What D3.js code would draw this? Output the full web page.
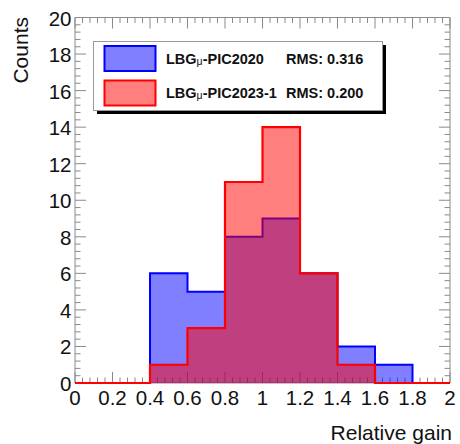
<!DOCTYPE html>
<html><head><meta charset="utf-8">
<script src="https://cdn.jsdelivr.net/npm/d3@7"></script>
<style>body{margin:0;background:#fff}svg{display:block}</style>
</head><body>
<script>
const binEdges = [0,0.2,0.4,0.6,0.8,1.0,1.2,1.4,1.6,1.8,2.0];
const countsPIC2020 = [0,0,6,5,8,9,6,2,1,0];
const countsPIC2023 = [0,0,1,3,11,14,6,1,0,0];
const xTicks = [0,0.2,0.4,0.6,0.8,1,1.2,1.4,1.6,1.8,2];
const yTicks = [0,2,4,6,8,10,12,14,16,18,20];
const legendNames = ["PIC2020","PIC2023-1"];
const legendRMS = ["RMS: 0.316","RMS: 0.200"];

const W=460,H=444;
const svg=d3.select("body").append("svg").attr("width",W).attr("height",H);
const x=d3.scaleLinear().domain([0,2]).range([75,450]);
const y=d3.scaleLinear().domain([0,20]).range([383,17.5]);
const font="Liberation Sans, Arial, sans-serif";
const axCol="#8a8a8a";

const g=svg.append("g");
g.append("line").attr("x1",x(0)).attr("x2",x(2)).attr("y1",y(0)).attr("y2",y(0)).attr("stroke",axCol);
g.append("line").attr("x1",x(0)).attr("x2",x(2)).attr("y1",y(20)).attr("y2",y(20)).attr("stroke",axCol);
g.append("line").attr("x1",x(0)).attr("x2",x(0)).attr("y1",y(0)).attr("y2",y(20)).attr("stroke",axCol);
g.append("line").attr("x1",x(2)).attr("x2",x(2)).attr("y1",y(0)).attr("y2",y(20)).attr("stroke",axCol);

const xMinor=d3.range(0,2.0001,0.04);
xMinor.forEach((v,i)=>{
  const major=i%5===0, L=major?11:5.5;
  g.append("line").attr("x1",x(v)).attr("x2",x(v)).attr("y1",y(0)).attr("y2",y(0)-L).attr("stroke",axCol);
  g.append("line").attr("x1",x(v)).attr("x2",x(v)).attr("y1",y(20)).attr("y2",y(20)+L).attr("stroke",axCol);
});
const yMinor=d3.range(0,20.0001,0.4);
yMinor.forEach((v,i)=>{
  const major=i%5===0, L=major?11:5.5;
  g.append("line").attr("y1",y(v)).attr("y2",y(v)).attr("x1",x(0)).attr("x2",x(0)+L).attr("stroke",axCol);
  g.append("line").attr("y1",y(v)).attr("y2",y(v)).attr("x1",x(2)).attr("x2",x(2)-L).attr("stroke",axCol);
});

function histPath(vals){
  let p="M"+x(binEdges[0])+","+y(0);
  vals.forEach((v,i)=>{p+="L"+x(binEdges[i])+","+y(v)+"L"+x(binEdges[i+1])+","+y(v);});
  p+="L"+x(binEdges[binEdges.length-1])+","+y(0);
  return p;
}
svg.append("path").attr("d",histPath(countsPIC2020)+"Z").attr("fill","rgba(0,0,255,0.5)").attr("stroke","none");
svg.append("path").attr("d",histPath(countsPIC2020)).attr("fill","none").attr("stroke","#0000ff").attr("stroke-width",2);
svg.append("path").attr("d",histPath(countsPIC2023)+"Z").attr("fill","rgba(255,0,0,0.5)").attr("stroke","none");
svg.append("path").attr("d",histPath(countsPIC2023)).attr("fill","none").attr("stroke","#ff0000").attr("stroke-width",2.2);

svg.append("g").selectAll("text").data(xTicks).join("text")
  .attr("x",d=>x(d)).attr("y",404.5).attr("text-anchor","middle")
  .attr("font-family",font).attr("font-size",20.5).attr("fill","#111").text(d=>d);
svg.append("g").selectAll("text").data(yTicks).join("text")
  .attr("x",71.5).attr("y",d=>y(d)+8).attr("text-anchor","end")
  .attr("font-family",font).attr("font-size",20.5).attr("fill","#111").text(d=>d);

svg.append("text").attr("transform","translate(28,17) rotate(-90)").attr("text-anchor","end")
  .attr("font-family",font).attr("font-size",21).attr("fill","#111").text("Counts");
svg.append("text").attr("x",452).attr("y",440).attr("text-anchor","end")
  .attr("font-family",font).attr("font-size",21).attr("fill","#111").text("Relative gain");

const lg=svg.append("g");
lg.append("rect").attr("x",97).attr("y",45).attr("width",289).attr("height",69).attr("fill","#000");
lg.append("rect").attr("x",93.5).attr("y",41.5).attr("width",289).attr("height",69).attr("fill","#fff").attr("stroke","#999");
const cols=[["rgba(0,0,255,0.5)","#0000ff"],["rgba(255,0,0,0.5)","#ff0000"]];
legendNames.forEach((n,i)=>{
  const yy=[46,80.5][i];
  lg.append("rect").attr("x",104.5).attr("y",yy).attr("width",51).attr("height",25)
    .attr("fill",cols[i][0]).attr("stroke",cols[i][1]).attr("stroke-width",2);
  const t=lg.append("text").attr("x",166).attr("y",yy+17.5).attr("font-family",font)
    .attr("font-size",14.5).attr("font-weight","bold").attr("fill","#111");
  t.append("tspan").text("LBG");
  t.append("tspan").attr("font-size",10.5).attr("font-weight","normal").attr("dy",1).text("\u03bc");
  t.append("tspan").attr("dy",-1).text("-"+n);
  lg.append("text").attr("x",286).attr("y",yy+17.5).attr("font-family",font)
    .attr("font-size",14.5).attr("font-weight","bold").attr("fill","#111").text(legendRMS[i]);
});
</script>
</body></html>
